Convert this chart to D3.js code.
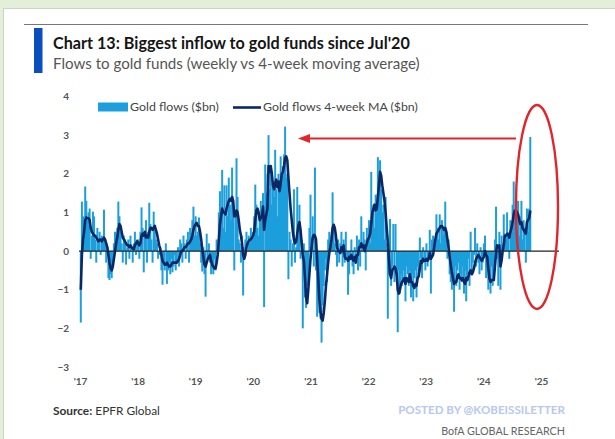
<!DOCTYPE html>
<html>
<head>
<meta charset="utf-8">
<script src="https://cdn.jsdelivr.net/npm/d3@7"></script>
<style>
  html, body { margin: 0; padding: 0; background: #e3efd9; }
  svg { display: block; }
</style>
</head>
<body>
<svg id="chart" width="615" height="439"></svg>
<script>
// Weekly flows to gold funds, $bn (one array per year, weeks from early Jan)
const flows2017 = [-1.85, 1.28, 0.9, 0.5, 1.67, 1.3, 0.8, 1.0, 1.1, -0.2, 0.4, 1.02, 0.9, 0.3, -0.3, 0.6, 0.2, 0.5, -0.1, 0.4, 0.3, 1.07, 0.2, -0.3, 0.1, -0.7, -0.75, -0.6, -0.7, -0.4, 0.2, 0.5, 0.3, 0.6, 1.28, 0.9, 0.5, 0.2, -0.3, 0.4, 0.3, -0.35, 0.1, 0.3, -0.2, 0.4, 0.0, -0.3, 0.2, 0.5, -0.1, 0.3];
const flows2018 = [0.3, -0.2, 0.5, 1.13, 0.6, -0.55, 0.4, 0.8, -0.3, 0.5, 1.25, 0.7, 0.3, -0.3, 1.02, 0.6, 0.3, 0.2, -0.2, -0.1, 0.1, -0.5, -0.87, -0.3, -0.5, 0.2, -0.85, -0.5, -0.3, -0.6, -0.2, -0.55, -0.4, -0.1, -0.5, -0.3, 0.1, -0.4, 0.3, 0.2, -0.3, 0.4, 0.2, -0.2, 0.3, 0.5, -0.3, 0.6, 0.4, 0.8, 1.15, 0.4];
const flows2019 = [0.9, 0.4, 0.5, 0.87, 0.2, -0.3, -0.53, 0.1, -0.6, -1.18, 0.45, -0.2, 0.2, -0.3, -0.6, -0.4, -0.6, -0.2, -0.5, 0.3, 0.2, 1.0, 1.55, 0.8, 2.1, 0.6, 1.7, 0.5, 1.7, 0.9, 1.9, 1.2, 0.8, 2.16, 1.2, -0.5, 1.0, 2.4, 1.4, 0.3, 0.2, -0.3, 0.4, -1.15, 0.1, 0.3, 0.5, 0.0, 0.4, 0.2, 0.6, 0.3];
const flows2020 = [0.5, 0.9, 1.72, 1.2, 0.6, 0.4, 1.0, 1.3, 0.8, 1.5, -1.45, 2.24, 1.5, 2.0, 3.0, 1.6, 2.1, 1.2, 1.8, 1.4, 2.62, 1.6, 0.9, 2.0, 1.7, 2.45, 1.8, 2.2, 2.5, 3.22, 1.9, 2.0, -0.73, 0.5, 0.3, -0.4, 0.2, 1.6, -0.3, 0.1, 1.66, 0.4, 1.2, -0.2, 0.3, -2.0, 0.2, -1.2, -1.47, -0.9, -0.6, 0.6];
const flows2021 = [1.46, 0.3, 0.9, -0.4, 2.16, -0.5, -1.7, -1.2, -1.6, -1.75, -2.37, -1.4, -0.9, -0.5, -0.2, -0.8, 0.3, 0.5, 0.2, 0.4, 1.52, 0.6, 0.2, -0.1, -0.4, 0.3, -0.3, 0.2, 0.5, -0.4, 0.3, -0.3, 0.5, -0.2, -1.13, -0.6, -0.2, 0.3, -0.4, -0.6, 0.1, -0.3, 0.4, -0.5, 0.3, -0.4, 0.9, 0.2, 0.5, 0.3, -0.5, 0.6];
const flows2022 = [0.3, 0.8, 0.2, 2.05, 0.9, 1.2, 0.6, 1.46, 1.0, 2.43, 1.8, 2.35, 1.6, 1.0, 1.2, 0.3, 1.4, 0.2, -1.75, -0.6, 0.83, -0.9, -0.4, 0.7, -0.8, 0.7, -0.6, -2.1, -0.5, -1.1, -0.6, -0.9, -0.5, -0.7, -1.3, -0.4, -0.6, -0.9, -0.5, -1.2, -0.6, -1.3, -0.7, -0.5, -1.2, -0.4, -0.6, 0.35, -0.2, -0.7, 0.1, -0.3];
const flows2023 = [-0.5, 0.2, -0.4, -0.2, 0.55, -1.1, 0.3, 0.4, 0.1, 0.3, 0.95, 0.6, 0.3, 0.95, 0.2, 0.8, 0.4, 0.6, 1.28, 0.5, -0.2, 0.3, -0.6, -0.8, -1.0, -0.5, -1.57, -0.4, -0.9, -0.5, -0.3, -1.0, -0.6, -0.8, -0.4, -1.1, -0.5, -1.3, -0.6, -0.2, -0.9, 0.5, -0.5, -0.3, -0.1, 0.6, -0.4, 0.2, -0.3, -0.6, 0.1, -0.5];
const flows2024 = [-0.3, 0.2, 0.4, -0.7, -0.5, -1.0, -0.6, -1.1, -0.4, -0.9, -0.7, 0.3, 1.15, -0.2, -0.9, 0.5, -1.0, 0.4, 0.2, 0.95, 0.1, 0.3, 1.0, 0.4, -0.2, 0.8, 0.7, 1.2, 1.8, 0.9, 1.3, 0.5, 1.3, 0.4, 0.9, 1.3, 0.3, 0.8, 0.6, -0.3, 1.1, 0.5, 1.1, 2.95];

// 4-week moving average of the same flows, $bn
const ma2017 = [-1.0, -0.1, 0.3, 0.5, 0.8, 0.87, 0.85, 0.85, 0.8, 0.6, 0.5, 0.45, 0.4, 0.4, 0.35, 0.3, 0.25, 0.3, 0.3, 0.25, 0.3, 0.35, 0.3, 0.2, 0.1, -0.1, -0.3, -0.45, -0.5, -0.4, -0.2, 0.0, 0.2, 0.35, 0.55, 0.7, 0.65, 0.5, 0.35, 0.3, 0.25, 0.2, 0.15, 0.15, 0.1, 0.15, 0.1, 0.05, 0.05, 0.15, 0.2, 0.25];
const ma2018 = [0.2, 0.15, 0.2, 0.4, 0.45, 0.4, 0.5, 0.35, 0.4, 0.35, 0.5, 0.6, 0.6, 0.55, 0.6, 0.65, 0.55, 0.45, 0.3, 0.15, 0.05, -0.1, -0.25, -0.3, -0.35, -0.35, -0.3, -0.35, -0.4, -0.4, -0.35, -0.3, -0.3, -0.3, -0.3, -0.3, -0.25, -0.2, -0.1, 0.0, 0.0, 0.05, 0.1, 0.1, 0.15, 0.2, 0.2, 0.25, 0.3, 0.4, 0.55, 0.65];
const ma2019 = [0.7, 0.73, 0.65, 0.65, 0.5, 0.3, 0.05, -0.15, -0.35, -0.4, -0.3, -0.2, -0.15, -0.1, -0.25, -0.35, -0.4, -0.45, -0.45, -0.3, -0.1, 0.3, 0.7, 0.9, 1.1, 1.0, 1.0, 0.95, 1.1, 1.2, 1.3, 1.35, 1.3, 1.4, 1.3, 0.9, 0.9, 1.05, 1.0, 0.8, 0.55, 0.4, 0.2, -0.1, -0.2, -0.1, 0.1, 0.2, 0.25, 0.3, 0.3, 0.35];
const ma2020 = [0.4, 0.5, 0.8, 1.05, 1.1, 1.0, 0.8, 0.85, 0.9, 1.15, 0.55, 0.8, 0.95, 1.1, 2.2, 2.05, 2.2, 2.0, 1.7, 1.6, 1.75, 1.85, 1.65, 1.8, 1.55, 1.75, 2.0, 2.05, 2.2, 2.4, 2.45, 2.35, 1.9, 1.5, 1.1, 0.8, 0.5, 0.3, 0.2, 0.25, 0.45, 0.65, 0.75, 0.55, 0.2, -0.1, -0.25, -0.7, -1.2, -1.35, -1.0, -0.6];
const ma2021 = [-0.2, 0.1, 0.35, 0.42, 0.4, 0.3, -0.2, -0.7, -1.25, -1.55, -1.75, -1.8, -1.6, -1.3, -0.9, -0.6, -0.3, -0.05, 0.1, 0.3, 0.6, 0.68, 0.6, 0.4, 0.1, 0.0, 0.0, -0.05, 0.1, 0.0, 0.15, -0.15, -0.2, -0.2, -0.25, -0.15, -0.2, -0.1, -0.2, -0.25, -0.15, -0.3, -0.1, -0.1, 0.1, 0.1, 0.2, 0.1, 0.15, 0.0, 0.1, 0.2];
const ma2022 = [0.3, 0.35, 0.45, 0.7, 1.0, 1.1, 1.2, 1.05, 1.1, 1.4, 1.7, 2.05, 1.95, 1.7, 1.5, 1.3, 1.0, 0.6, 0.25, -0.2, -0.6, -0.7, -0.5, -0.45, -0.4, -0.45, -0.6, -1.0, -1.1, -1.0, -0.85, -0.8, -0.75, -0.7, -0.85, -0.7, -0.75, -0.8, -0.6, -0.8, -0.8, -0.9, -0.95, -0.85, -0.9, -0.7, -0.65, -0.45, -0.25, -0.3, -0.2, -0.25];
const ma2023 = [-0.25, -0.2, -0.25, -0.2, -0.05, -0.2, -0.15, -0.1, 0.1, 0.3, 0.45, 0.5, 0.55, 0.6, 0.65, 0.65, 0.6, 0.55, 0.6, 0.5, 0.3, 0.1, -0.15, -0.35, -0.55, -0.7, -0.85, -0.8, -0.8, -0.65, -0.6, -0.7, -0.7, -0.75, -0.7, -0.8, -0.85, -0.7, -0.75, -0.65, -0.55, -0.5, -0.6, -0.55, -0.45, -0.3, -0.2, -0.15, -0.1, -0.15, -0.2, -0.25];
const ma2024 = [-0.2, -0.15, 0.0, -0.1, -0.15, -0.45, -0.7, -0.8, -0.75, -0.75, -0.75, -0.4, -0.05, 0.15, 0.1, 0.15, -0.4, -0.25, 0.0, 0.15, 0.4, 0.4, 0.45, 0.45, 0.35, 0.5, 0.6, 0.75, 0.95, 1.05, 1.05, 1.0, 0.95, 0.8, 0.7, 0.75, 0.6, 0.55, 0.5, 0.45, 0.75, 0.8, 0.85, 1.05];

const yearLabels = ["'17", "'18", "'19", "'20", "'21", "'22", "'23", "'24", "'25"];
const tickYears = [2017, 2018, 2019, 2020, 2021, 2022, 2023, 2024, 2025];
const yTicks = [4, 3, 2, 1, 0, -1, -2, -3];

const flows = [].concat(flows2017, flows2018, flows2019, flows2020, flows2021, flows2022, flows2023, flows2024);
const ma = [].concat(ma2017, ma2018, ma2019, ma2020, ma2021, ma2022, ma2023, ma2024);
const firstWeek = new Date(2017, 0, 6);
const weeks = flows.map((v, i) => ({ date: d3.timeDay.offset(firstWeek, 7 * i), flow: v, ma: ma[i] }));

const svg = d3.select("#chart");
const barColor = "#1c9fdc";
const lineColor = "#0b2866";
const red = "#e0252b";
const FONT = "Lato, 'Open Sans', sans-serif";

// fit a text element to a given width by scaling its font size
function fitWidth(sel, w) {
  const len = sel.node().getComputedTextLength();
  if (len > 0) sel.attr("font-size", (+sel.attr("font-size")) * w / len);
  return sel;
}

// card
svg.append("rect").attr("x", 3.5).attr("y", 8.5).attr("width", 620).attr("height", 440)
  .attr("fill", "#ffffff").attr("stroke", "#c9d6c0").attr("stroke-width", 1);

// header rule and accent
svg.append("line").attr("x1", 24).attr("x2", 588).attr("y1", 24.5).attr("y2", 24.5)
  .attr("stroke", "#777").attr("stroke-width", 1);
svg.append("rect").attr("x", 34).attr("y", 28).attr("width", 8.5).attr("height", 45).attr("fill", "#0a4fc0");

const title = svg.append("text").attr("x", 53).attr("y", 48.5)
  .attr("font-family", FONT).attr("font-weight", 700).attr("font-size", 15).attr("fill", "#151515")
  .text("Chart 13: Biggest inflow to gold funds since Jul'20");
fitWidth(title, 357);

const subtitle = svg.append("text").attr("x", 53).attr("y", 68.5)
  .attr("font-family", FONT).attr("font-size", 14).attr("fill", "#555")
  .text("Flows to gold funds (weekly vs 4-week moving average)");
fitWidth(subtitle, 367);

// scales
const x = d3.scaleTime().domain([new Date(2017, 0, 1), new Date(2025, 0, 1)]).range([80, 541]);
const y = d3.scaleLinear().domain([-3, 4]).range([367, 96.5]);

// weekly bars
svg.append("g").selectAll("rect").data(weeks).join("rect")
  .attr("x", d => x(d.date) - 1)
  .attr("width", 2)
  .attr("y", d => Math.min(y(d.flow), y(0)))
  .attr("height", d => Math.abs(y(d.flow) - y(0)))
  .attr("fill", barColor);

// zero line
svg.append("line").attr("x1", 79).attr("x2", 559).attr("y1", y(0)).attr("y2", y(0))
  .attr("stroke", "#222").attr("stroke-width", 1.3);

// moving average
svg.append("path").datum(weeks)
  .attr("d", d3.line().x(d => x(d.date)).y(d => y(d.ma)))
  .attr("fill", "none").attr("stroke", lineColor).attr("stroke-width", 2.6)
  .attr("stroke-linejoin", "round");

// y axis
const yAxis = svg.append("g").attr("transform", "translate(69,0)")
  .call(d3.axisLeft(y).tickValues(yTicks).tickSize(0).tickPadding(0).tickFormat(d3.format("d")));
yAxis.select(".domain").remove();
yAxis.selectAll("text").attr("font-family", FONT).attr("font-size", 10).attr("font-weight", 700).attr("fill", "#555");

// x axis
const xAxis = svg.append("g").attr("transform", "translate(0,378)")
  .call(d3.axisBottom(x).tickValues(tickYears.map(yr => new Date(yr, 0, 1)))
    .tickSize(0).tickPadding(0).tickFormat((d, i) => yearLabels[i]));
xAxis.select(".domain").remove();
xAxis.selectAll("text").attr("font-family", FONT).attr("font-size", 10).attr("font-weight", 700).attr("fill", "#555");

// legend
svg.append("rect").attr("x", 98).attr("y", 102.5).attr("width", 30).attr("height", 9).attr("fill", barColor);
const lg1 = svg.append("text").attr("x", 130).attr("y", 111)
  .attr("font-family", FONT).attr("font-size", 10.5).attr("fill", "#444").text("Gold flows ($bn)");
fitWidth(lg1, 89);
svg.append("line").attr("x1", 233).attr("x2", 261).attr("y1", 107.5).attr("y2", 107.5)
  .attr("stroke", lineColor).attr("stroke-width", 2.6);
const lg2 = svg.append("text").attr("x", 263).attr("y", 111)
  .attr("font-family", FONT).attr("font-size", 10.5).attr("fill", "#444").text("Gold flows 4-week MA ($bn)");
fitWidth(lg2, 155);

// annotation: arrow back to the Jul'20 peak and ring round the latest weeks
svg.append("line").attr("x1", 516).attr("x2", 306).attr("y1", 138.5).attr("y2", 138.5)
  .attr("stroke", red).attr("stroke-width", 2);
svg.append("path").attr("d", "M298,138.5 L310,134 L310,143 Z").attr("fill", red);
svg.append("ellipse").attr("cx", 537).attr("cy", 207).attr("rx", 21).attr("ry", 102)
  .attr("fill", "none").attr("stroke", red).attr("stroke-width", 2.4);

// footer
const src = svg.append("text").attr("x", 53).attr("y", 415)
  .attr("font-family", FONT).attr("font-size", 11).attr("fill", "#333");
src.append("tspan").attr("font-weight", 700).text("Source:");
src.append("tspan").text(" EPFR Global");
fitWidth(src, 107);

const posted = svg.append("text").attr("x", 565).attr("y", 414).attr("text-anchor", "end")
  .attr("font-family", FONT).attr("font-size", 9.5).attr("font-weight", 700).attr("fill", "#b8c8ee")
  .text("POSTED BY @KOBEISSILETTER");
fitWidth(posted, 167);

const bofa = svg.append("text").attr("x", 565).attr("y", 435).attr("text-anchor", "end")
  .attr("font-family", FONT).attr("font-size", 11).attr("fill", "#666")
  .text("BofA GLOBAL RESEARCH");
fitWidth(bofa, 124);
</script>
</body>
</html>
